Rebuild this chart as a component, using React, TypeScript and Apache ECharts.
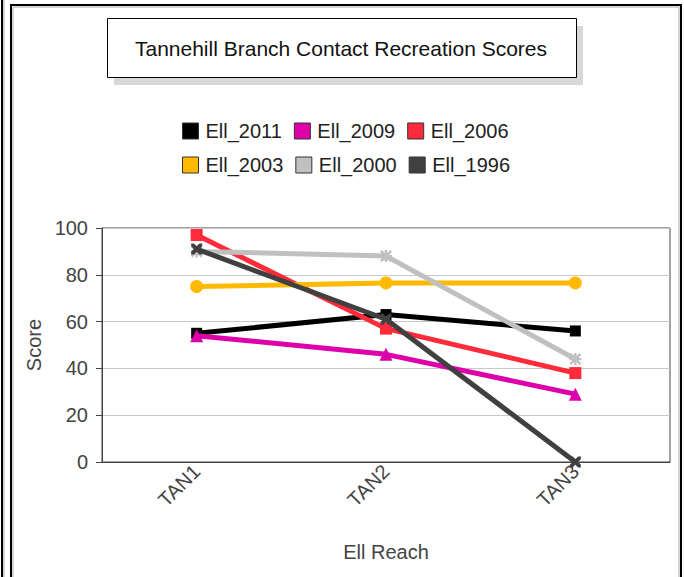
import React, { useEffect, useRef } from "react";
import * as echarts from "echarts";

const categories = ["TAN1", "TAN2", "TAN3"];
const seriesNames = ["Ell_2011", "Ell_2009", "Ell_2006", "Ell_2003", "Ell_2000", "Ell_1996"];
const ell2011 = [55, 63, 56];
const ell2009 = [54, 46, 29];
const ell2006 = [97, 57, 38];
const ell2003 = [75, 76.5, 76.5];
const ell2000 = [90, 88, 44];
const ell1996 = [91, 61, 0];
const yTicks = [0, 20, 40, 60, 80, 100];

const colors = ["#000000", "#dd00aa", "#ff2a3a", "#ffba00", "#c0c0c0", "#404040"];
const FONT = "'Liberation Sans', Arial, sans-serif";

const X_PATH = "path://M0,0 L2.5,0 L5,2.5 L7.5,0 L10,0 L10,2.5 L7.5,5 L10,7.5 L10,10 L7.5,10 L5,7.5 L2.5,10 L0,10 L0,7.5 L2.5,5 L0,2.5 Z";
const STAR_PATH = "path://M4,0 L6,0 L6,4 L10,4 L10,6 L6,6 L6,10 L4,10 L4,6 L0,6 L0,4 L4,4 Z M0,1.5 L1.5,0 L5,3.5 L8.5,0 L10,1.5 L6.5,5 L10,8.5 L8.5,10 L5,6.5 L1.5,10 L0,8.5 L3.5,5 Z";

export default function App() {
  const ref = useRef<HTMLDivElement>(null);
  useEffect(() => {
    if (!ref.current) return;
    const chart = echarts.init(ref.current, null, { renderer: "svg" });
    const data = [ell2011, ell2009, ell2006, ell2003, ell2000, ell1996];
    const symbols = ["rect", "triangle", "rect", "circle", STAR_PATH, X_PATH];
    const sizes = [11, 13, 12, 13, 12, 11];
    const legendCommon = {
      icon: "rect",
      itemWidth: 16,
      itemHeight: 16,
      itemGap: 12,
      left: 177,
      textStyle: { fontFamily: FONT, fontSize: 20, color: "#222", padding: [0, 0, 0, 2] },
      itemStyle: { borderColor: "#333", borderWidth: 1 },
    };
    chart.setOption({
      animation: false,
      backgroundColor: "#ffffff",
      color: colors,
      graphic: [
        { type: "line", shape: { x1: 2, y1: 0, x2: 2, y2: 577 }, style: { stroke: "#000", lineWidth: 2 } },
        { type: "line", shape: { x1: 4, y1: 0, x2: 4, y2: 577 }, style: { stroke: "#aaa", lineWidth: 1 } },
        { type: "rect", shape: { x: 11, y: 5, width: 670, height: 600 }, style: { fill: "none", stroke: "#000", lineWidth: 2 } },
        { type: "rect", shape: { x: 13, y: 7, width: 666, height: 600 }, style: { fill: "none", stroke: "#aaa", lineWidth: 1 } },
        { type: "rect", shape: { x: 114, y: 26, width: 469, height: 59 }, style: { fill: "#d8d8d8" } },
        { type: "rect", shape: { x: 107.5, y: 18.5, width: 469, height: 59 }, style: { fill: "#fff", stroke: "#000", lineWidth: 1 } },
        {
          type: "text",
          x: 341,
          y: 48,
          style: {
            text: "Tannehill Branch Contact Recreation Scores",
            font: `21px ${FONT}`,
            fill: "#111",
            align: "center",
            verticalAlign: "middle",
          },
        },
      ],
      legend: [
        { ...legendCommon, top: 116, data: seriesNames.slice(0, 3) },
        { ...legendCommon, top: 150, data: seriesNames.slice(3, 6) },
      ],
      grid: {
        left: 102,
        top: 228,
        right: 14,
        bottom: 115,
        show: true,
        borderColor: "#444",
        borderWidth: 1,
      },
      xAxis: {
        type: "category",
        data: categories,
        boundaryGap: true,
        name: "Ell Reach",
        nameLocation: "middle",
        nameGap: 80,
        nameTextStyle: { fontFamily: FONT, fontSize: 20, color: "#444" },
        axisLine: { lineStyle: { color: "#444", width: 1 } },
        axisTick: { alignWithLabel: true, length: 6, lineStyle: { color: "#444" } },
        axisLabel: { rotate: 45, fontFamily: FONT, fontSize: 20, color: "#444", margin: 6 },
        splitLine: { show: false },
      },
      yAxis: {
        type: "value",
        min: yTicks[0],
        max: yTicks[yTicks.length - 1],
        interval: 20,
        name: "Score",
        nameLocation: "middle",
        nameGap: 56,
        nameRotate: 90,
        nameTextStyle: { fontFamily: FONT, fontSize: 20, color: "#444" },
        axisLine: { show: true, lineStyle: { color: "#444", width: 1 } },
        axisTick: { show: true, length: 6, lineStyle: { color: "#444" } },
        axisLabel: { fontFamily: FONT, fontSize: 20, color: "#444", margin: 14 },
        splitLine: { lineStyle: { color: "#c8c8c8", width: 1 } },
      },
      series: seriesNames.map((name, i) => ({
        name,
        type: "line",
        data: data[i],
        symbol: symbols[i],
        symbolSize: sizes[i],
        showSymbol: true,
        lineStyle: { width: 5, color: colors[i] },
        itemStyle: { color: colors[i] },
        z: 2 + i,
      })),
    });
    return () => chart.dispose();
  }, []);
  return (
    <div
      ref={ref}
      style={{ position: "fixed", left: 0, top: 0, width: 684, height: 577 }}
    />
  );
}
